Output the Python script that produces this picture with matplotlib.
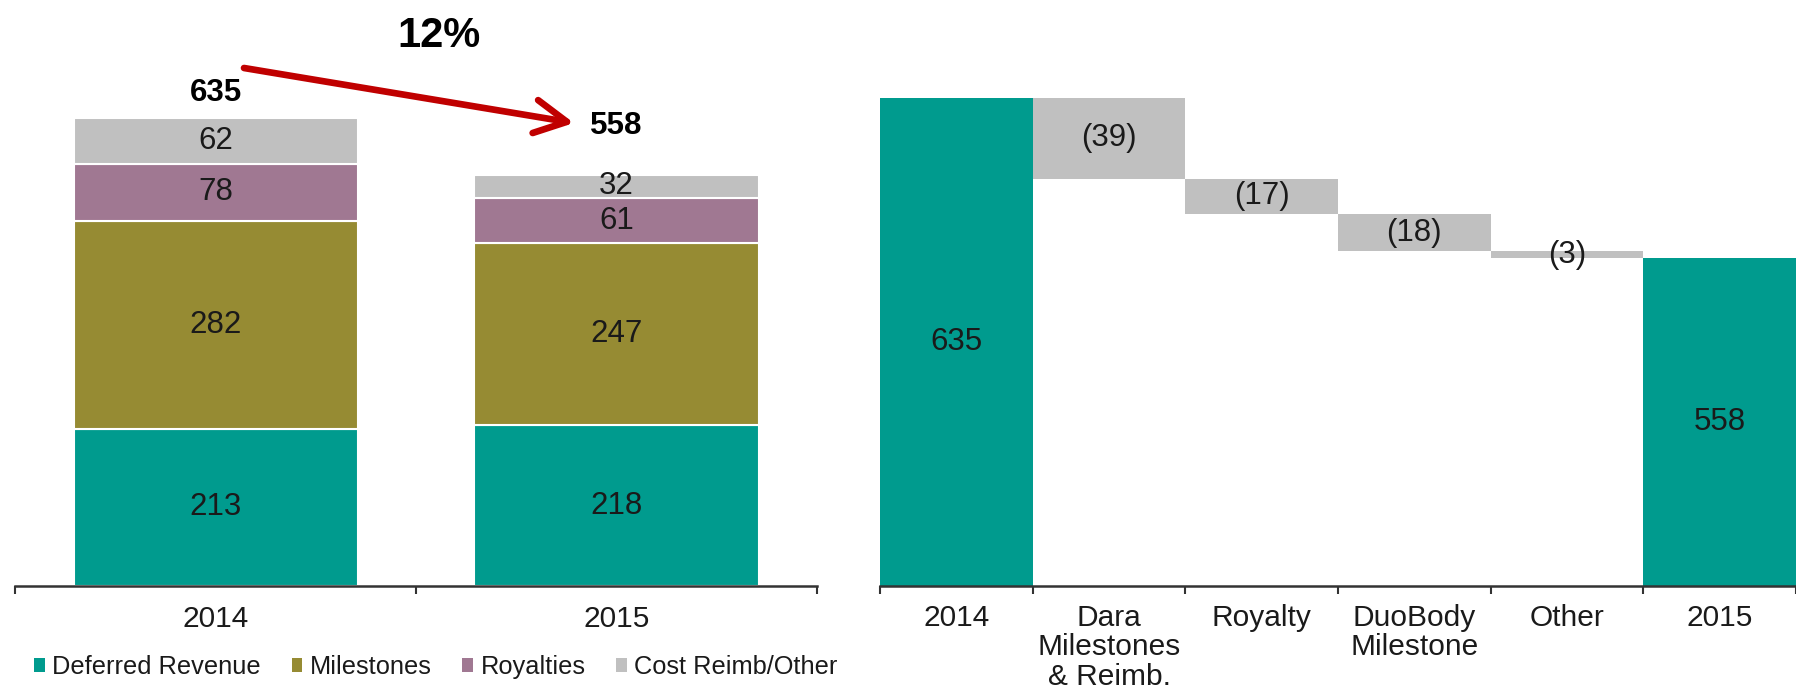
import matplotlib.pyplot as plt
from matplotlib.patches import Patch

plt.rcParams['font.family'] = ['Liberation Sans', 'DejaVu Sans']

# left chart: revenue split by year
years = ["2014", "2015"]
deferred = [213, 218]
milestones = [282, 247]
royalties = [78, 61]
cost_other = [62, 32]
totals = [635, 558]
change_label = "12%"

# right chart: bridge from 2014 to 2015
wf_labels = ["2014", "Dara\nMilestones\n& Reimb.", "Royalty", "DuoBody\nMilestone", "Other", "2015"]
wf_start = 635
wf_changes = [-39, -17, -18, -3]
wf_end = 558

teal = "#009B8E"
olive = "#968B33"
mauve = "#A07892"
grey = "#C0C0C0"
txt = "#1a1a1a"

fig = plt.figure(figsize=(17.96, 6.92), dpi=100)

# ---------- left stacked bars ----------
ax = fig.add_axes([0.0086, 0.1532, 0.4463, 0.8468])
x = range(len(years))
w = 0.71
series = [(deferred, teal, "Deferred Revenue"), (milestones, olive, "Milestones"),
          (royalties, mauve, "Royalties"), (cost_other, grey, "Cost Reimb/Other")]
bottom = [0, 0]
for vals, col, name in series:
    ax.bar(x, vals, w, bottom=bottom, color=col, edgecolor="white", linewidth=1.5, label=name)
    for i, v in enumerate(vals):
        ax.text(i, bottom[i] + v / 2, str(v), ha="center", va="center", fontsize=22.5, color=txt)
    bottom = [b + v for b, v in zip(bottom, vals)]

offsets = [18, 35]
for i, t in enumerate(totals):
    ax.annotate(str(t), (i, t), xytext=(0, offsets[i]), textcoords="offset points",
                ha="center", va="center", fontsize=22.5, fontweight="bold", color="black")

ax.set_xlim(-0.5, 1.5)
ax.set_ylim(0, 795)
ax.set_xticks(list(x))
ax.set_xticklabels(years)
ax.set_xticks([-0.5, 0.5, 1.5], minor=True)
ax.tick_params(axis="x", which="major", length=0, pad=14, labelsize=21.5, labelcolor=txt)
ax.tick_params(axis="x", which="minor", length=6, width=1.5, color="#333333")
ax.set_yticks([])
for s in ["left", "top", "right"]:
    ax.spines[s].set_visible(False)
ax.spines["bottom"].set_linewidth(1.8)
ax.spines["bottom"].set_color("#333333")

handles = [Patch(facecolor=c, edgecolor="none", label=n) for _, c, n in series]
fig.legend(handles=handles, loc="center left", bbox_to_anchor=(0.019, 1 - 667 / 692),
           ncol=4, frameon=False, fontsize=18.3, handlelength=0.42, handleheight=0.42,
           handletextpad=0.3, columnspacing=1.2, borderpad=0, borderaxespad=0,
           labelcolor=txt)

fig.text(439 / 1796, 1 - 36 / 692, change_label, ha="center", va="center",
         fontsize=30, fontweight="bold", color="black")
ax.annotate("", xy=(574 / 1796, 1 - 123 / 692), xytext=(244 / 1796, 1 - 68 / 692),
            xycoords="figure fraction", textcoords="figure fraction",
            arrowprops=dict(arrowstyle="->,head_length=2.3,head_width=1.2",
                            mutation_scale=10, color="#C00000", lw=4.8,
                            shrinkA=0, shrinkB=0), annotation_clip=False)

# ---------- right waterfall ----------
ax2 = fig.add_axes([880 / 1796, 0.1532, 916 / 1796, 0.8468])
ax2.set_ylim(400, 682)
base = ax2.get_ylim()[0]

ax2.bar(0, wf_start, 1.0, color=teal)
ax2.text(0, (base + wf_start) / 2, str(wf_start), ha="center", va="center", fontsize=22.5, color=txt)
running = wf_start
for i, c in enumerate(wf_changes, start=1):
    new = running + c
    ax2.bar(i, abs(c), 1.0, bottom=min(running, new), color=grey)
    ax2.text(i, (running + new) / 2, "(%d)" % abs(c), ha="center", va="center",
             fontsize=22.5, color=txt)
    running = new
n = len(wf_labels) - 1
ax2.bar(n, wf_end, 1.0, color=teal)
ax2.text(n, (base + wf_end) / 2, str(wf_end), ha="center", va="center", fontsize=22.5, color=txt)

ax2.set_xlim(-0.5, -0.5 + 916 / 155)
ax2.set_xticks(range(len(wf_labels)))
ax2.set_xticklabels(wf_labels, linespacing=1.06)
ax2.set_xticks([i - 0.5 for i in range(len(wf_labels) + 1)], minor=True)
ax2.tick_params(axis="x", which="major", length=0, pad=13, labelsize=21.5, labelcolor=txt)
ax2.tick_params(axis="x", which="minor", length=6, width=1.5, color="#333333")
ax2.set_yticks([])
for s in ["left", "top", "right"]:
    ax2.spines[s].set_visible(False)
ax2.spines["bottom"].set_linewidth(1.8)
ax2.spines["bottom"].set_color("#333333")

fig.savefig("out.png", dpi=100)
